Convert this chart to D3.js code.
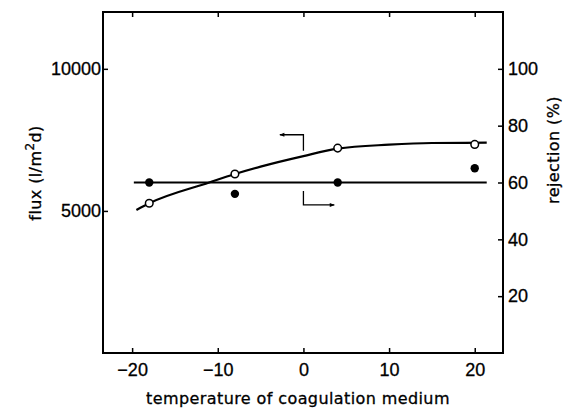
<!DOCTYPE html>
<html>
<head>
<meta charset="utf-8">
<script src="https://cdn.jsdelivr.net/npm/d3@7"></script>
<style>
  body { margin: 0; background: #fff; }
  svg { display: block; }
  .tick text { font-family: "Liberation Sans", Arial, sans-serif; font-size: 18px; fill: #000; stroke: #000; stroke-width: 0.3px; }
  .title { font-family: "DejaVu Sans", sans-serif; font-size: 16px; fill: #000; stroke: #000; stroke-width: 0.3px; letter-spacing: 0.4px; }
</style>
</head>
<body>
<svg width="563" height="414"></svg>
<script>
// temperature of coagulation medium (x)
const temps = [-18, -8, 4, 20]
// flux (l/m2d), open circles
const fluxValues = [5270, 6300, 7210, 7340]
// rejection (%), filled circles
const rejectionValues = [60, 56, 60, 65]
// fitted flux curve as drawn in the figure
const fluxCurveX = [-19.5, -18, -11, -8, -5, 0, 4, 10, 15, 21.4]
const fluxCurveY = [5035, 5270, 6000, 6300, 6560, 6930, 7190, 7330, 7390, 7400]
// rejection fitted line
const rejLineX = [-19.8, 21.4]
const rejLineY = [60, 60]

const xTicks = [-20, -10, 0, 10, 20]
const fluxTicks = [5000, 10000]
const rejTicks = [20, 40, 60, 80, 100]

const margin = {top: 12, right: 60, bottom: 61, left: 103}
const width = 563, height = 414
const gw = width - margin.left - margin.right
const gh = height - margin.top - margin.bottom

const svg = d3.select("svg")
const g = svg.append("g").attr("transform", "translate(" + margin.left + "," + margin.top + ")")

const x = d3.scaleLinear().domain([-23.4, 23.3]).range([0, gw])
const yFlux = d3.scaleLinear().domain([0, 12000]).range([gh, 0])
const yRej = d3.scaleLinear().domain([0, 120]).range([gh, 0])

// axes, ticks pointing inward
g.append("g").attr("transform", "translate(0," + gh + ")")
  .call(d3.axisBottom(x).tickValues(xTicks).tickSizeInner(-5).tickSizeOuter(0).tickPadding(10)
    .tickFormat(d => d < 0 ? "\u2212" + Math.abs(d) : d))
g.append("g")
  .call(d3.axisTop(x).tickValues(xTicks).tickSizeInner(-5).tickSizeOuter(0).tickFormat(""))
g.append("g")
  .call(d3.axisLeft(yFlux).tickValues(fluxTicks).tickSizeInner(-5).tickSizeOuter(0).tickPadding(2)
    .tickFormat(d3.format("d")))
g.append("g").attr("transform", "translate(" + gw + ",0)")
  .call(d3.axisRight(yRej).tickValues(rejTicks).tickSizeInner(-5).tickSizeOuter(0).tickPadding(5))

g.selectAll(".domain").remove()
g.selectAll(".tick line").attr("stroke", "#000").attr("stroke-width", 1.5)

// frame
g.append("rect").attr("width", gw).attr("height", gh)
  .attr("fill", "none").attr("stroke", "#000").attr("stroke-width", 2)

// flux curve
const fluxLine = d3.line().curve(d3.curveMonotoneX)
  .x(d => x(d[0])).y(d => yFlux(d[1]))
g.append("path").attr("d", fluxLine(d3.zip(fluxCurveX, fluxCurveY)))
  .attr("fill", "none").attr("stroke", "#000").attr("stroke-width", 2.2)

// rejection line
const rejLine = d3.line().x(d => x(d[0])).y(d => yRej(d[1]))
g.append("path").attr("d", rejLine(d3.zip(rejLineX, rejLineY)))
  .attr("fill", "none").attr("stroke", "#000").attr("stroke-width", 2.2)

// points
g.selectAll(".open").data(d3.zip(temps, fluxValues)).enter().append("circle")
  .attr("cx", d => x(d[0])).attr("cy", d => yFlux(d[1])).attr("r", 3.8)
  .attr("fill", "#fff").attr("stroke", "#000").attr("stroke-width", 1.5)
g.selectAll(".filled").data(d3.zip(temps, rejectionValues)).enter().append("circle")
  .attr("cx", d => x(d[0])).attr("cy", d => yRej(d[1])).attr("r", 4.2)
  .attr("fill", "#000")

// arrows telling which axis each line belongs to
svg.append("defs").append("marker").attr("id", "head")
  .attr("viewBox", "0 0 10 10").attr("refX", 9).attr("refY", 5)
  .attr("markerWidth", 6).attr("markerHeight", 5).attr("orient", "auto")
  .attr("markerUnits", "userSpaceOnUse")
  .append("path").attr("d", "M0,1L10,5L0,9z").attr("fill", "#000")

const upArrow = [[0, 7120], [0, 7680], [-2.75, 7680]]
const downArrow = [[0, 57], [0, 52.1], [3.6, 52.1]]
g.append("path")
  .attr("d", d3.line().x(d => x(d[0])).y(d => yFlux(d[1]))(upArrow))
  .attr("fill", "none").attr("stroke", "#000").attr("stroke-width", 1.3).attr("marker-end", "url(#head)")
g.append("path")
  .attr("d", d3.line().x(d => x(d[0])).y(d => yRej(d[1]))(downArrow))
  .attr("fill", "none").attr("stroke", "#000").attr("stroke-width", 1.3).attr("marker-end", "url(#head)")

// axis titles
svg.append("text").attr("class", "title")
  .attr("x", 298).attr("y", 404).attr("text-anchor", "middle")
  .text("temperature of coagulation medium")
const yl = svg.append("text").attr("class", "title")
  .attr("transform", "translate(41,173) rotate(-90)").attr("text-anchor", "middle")
yl.append("tspan").text("flux (l/m")
yl.append("tspan").attr("dy", -7).attr("font-size", "12px").text("2")
yl.append("tspan").attr("dy", 7).text("d)")
svg.append("text").attr("class", "title")
  .attr("transform", "translate(559,150) rotate(-90)").attr("text-anchor", "middle")
  .text("rejection (%)")
</script>
</body>
</html>
